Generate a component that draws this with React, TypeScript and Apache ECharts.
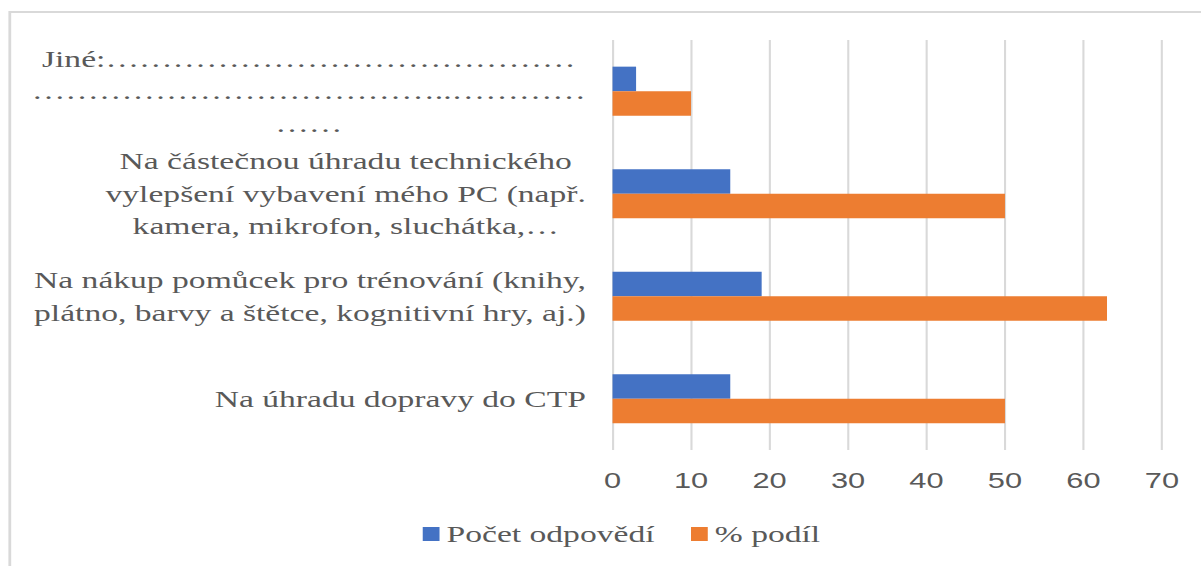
import React, { useEffect, useRef } from "react";
import * as echarts from "echarts";

// Categories (bottom to top, as on the chart), with the label line breaks of the original
const categories: string[] = [
  "Na úhradu dopravy do CTP",
  "Na nákup pomůcek pro trénování (knihy,\nplátno, barvy a štětce, kognitivní hry, aj.)",
  "Na částečnou úhradu technického\nvylepšení vybavení mého PC (např.\nkamera, mikrofon, sluchátka,…",
  "Jiné:" + "…".repeat(14) + "\n" + "…".repeat(12) + ".." + "…".repeat(4) + "\n" + "……",
];
const countValues: number[] = [15, 19, 15, 3];
const shareValues: number[] = [50, 63, 50, 10];
const seriesNames: string[] = ["Počet odpovědí", "% podíl"];
const xMin = 0;
const xMax = 70;
const xInterval = 10;

const STRETCH = 1201 / 858;

export default function App() {
  const ref = useRef<HTMLDivElement>(null);
  useEffect(() => {
    if (!ref.current) return;
    const chart = echarts.init(ref.current, undefined, { renderer: "svg" });
    const grey = "#595959";
    const option: any = {
      animation: false,
      backgroundColor: "#ffffff",
      graphic: [
        {
          type: "rect",
          silent: true,
          z: -10,
          shape: { x: 7, y: 12, width: 1000, height: 1000 },
          style: { fill: "none", stroke: "#d9d9d9", lineWidth: 2 },
        },
      ],
      grid: {
        left: 437.6,
        right: 27.9,
        top: 40,
        bottom: 116,
        containLabel: false,
        outerBoundsMode: "none",
      },
      legend: {
        data: seriesNames,
        left: 297,
        top: 517,
        icon: "rect",
        itemWidth: 12,
        itemHeight: 14,
        itemGap: 26,
        textStyle: { fontFamily: "Liberation Serif", fontSize: 24, color: grey },
      },
      xAxis: {
        type: "value",
        min: xMin,
        max: xMax,
        interval: xInterval,
        axisLine: { show: false },
        axisTick: { show: false },
        axisLabel: {
          fontFamily: "Liberation Sans",
          fontSize: 22,
          color: grey,
          margin: 20,
        },
        splitLine: { show: true, lineStyle: { color: "#d9d9d9", width: 1.5 } },
      },
      yAxis: {
        type: "category",
        data: categories,
        axisLine: { show: false },
        axisTick: { show: false },
        splitLine: { show: false },
        axisLabel: {
          margin: 19,
          fontFamily: "Liberation Serif",
          fontSize: 24,
          lineHeight: 32.5,
          color: grey,
          formatter: (v: string) =>
            v
              .split("\n")
              .map((l) => `{c|${l}}`)
              .join("\n"),
          rich: {
            c: {
              fontFamily: "Liberation Serif",
              fontSize: 24,
              lineHeight: 32.5,
              color: grey,
              align: "center",
            },
          },
        },
      },
      series: [
        {
          name: seriesNames[0],
          type: "bar",
          data: countValues,
          barGap: "0%",
          barCategoryGap: "52%",
          itemStyle: { color: "#4472C4" },
        },
        {
          name: seriesNames[1],
          type: "bar",
          data: shareValues,
          barGap: "0%",
          barCategoryGap: "52%",
          itemStyle: { color: "#ED7D31" },
        },
      ],
    };
    chart.setOption(option);
    return () => chart.dispose();
  }, []);
  return (
    <div
      style={{
        position: "absolute",
        left: 0,
        top: 0,
        width: 1201,
        height: 566,
        overflow: "hidden",
        background: "#ffffff",
      }}
    >
      <div
        ref={ref}
        style={{
          position: "absolute",
          left: 0,
          top: 0,
          width: 858,
          height: 566,
          transform: `scaleX(${STRETCH})`,
          transformOrigin: "0 0",
        }}
      />
    </div>
  );
}
